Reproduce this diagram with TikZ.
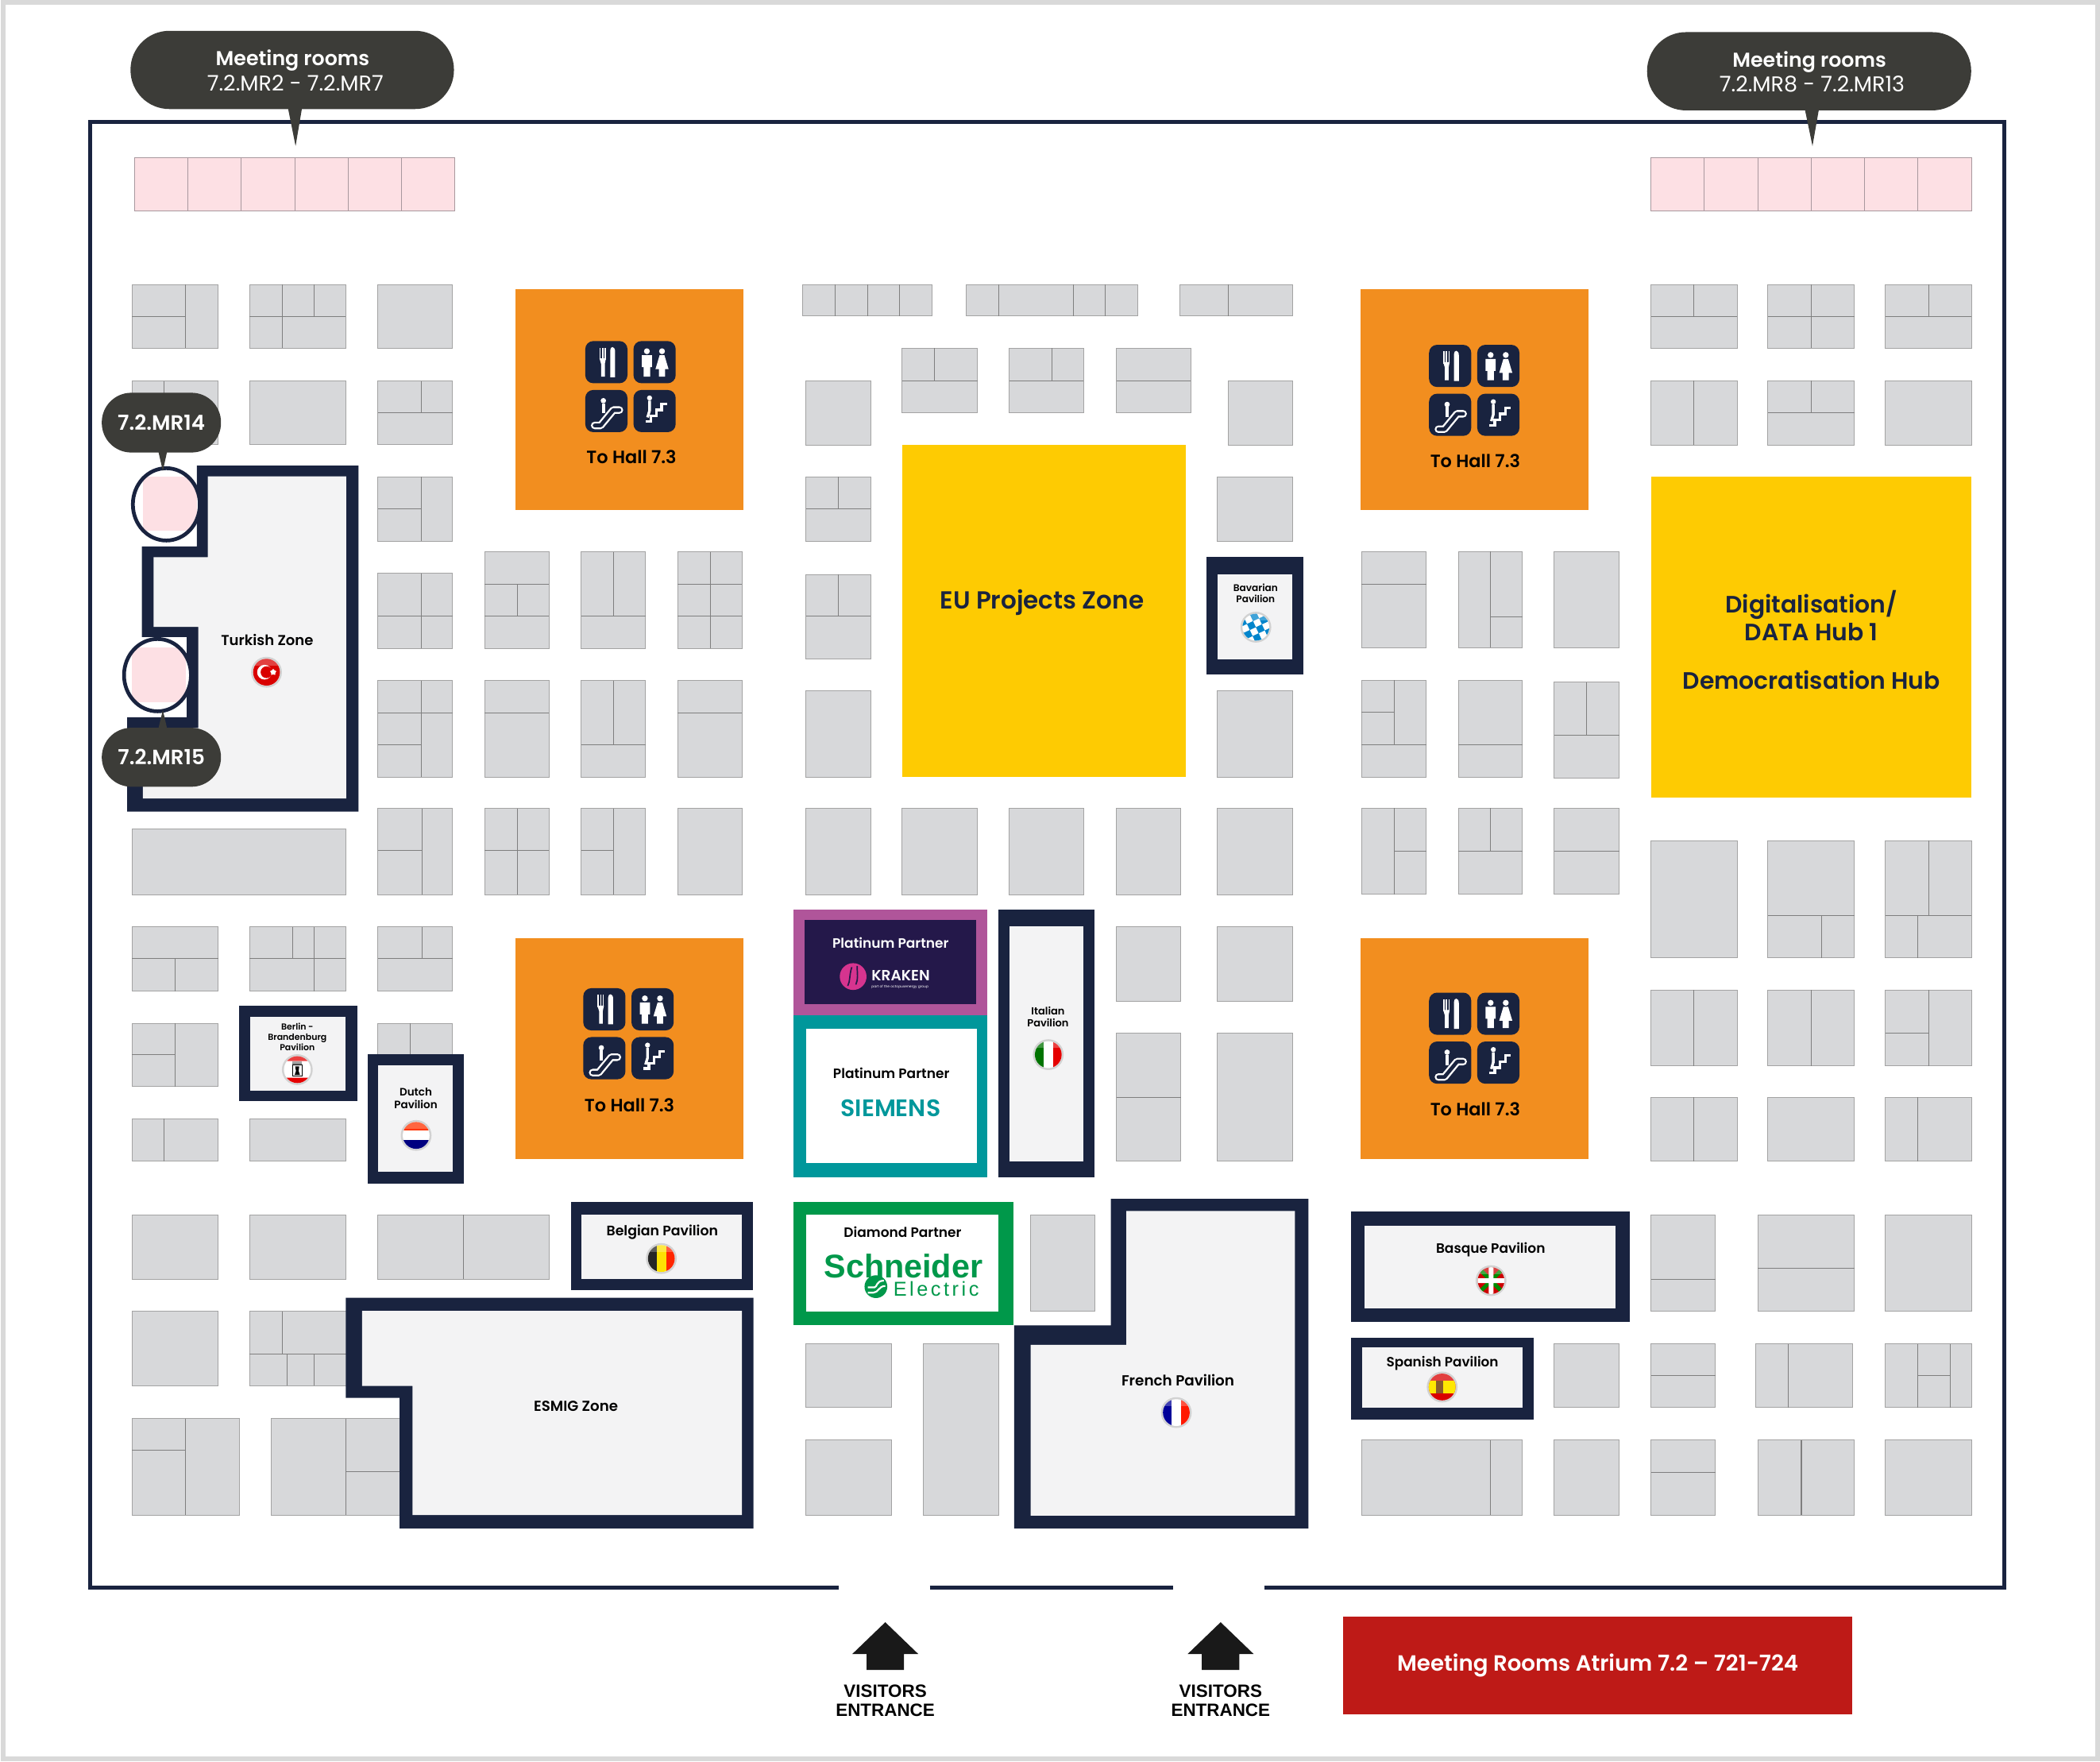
\documentclass[tikz,border=0pt]{standalone}
\usepackage{fontspec}
\setmainfont[BoldFont={Poppins SemiBold}]{Poppins}
\newfontfamily\arialfont{Liberation Sans}
\newfontfamily\electricfont[LetterSpace=14]{Liberation Sans}
\usetikzlibrary{shapes.geometric}

\definecolor{navywall}{HTML}{19233F}
\definecolor{standgrey}{HTML}{D7D8DA}
\definecolor{standline}{HTML}{A3A3A3}
\definecolor{dividerline}{HTML}{7F7F7F}
\definecolor{roompink}{HTML}{FDE0E4}
\definecolor{roomline}{HTML}{A8989E}
\definecolor{hallorange}{HTML}{F28E1F}
\definecolor{zoneyellow}{HTML}{FECB02}
\definecolor{zonefill}{HTML}{F3F3F4}
\definecolor{callgrey}{HTML}{3C3C38}
\definecolor{pagegrey}{HTML}{D9D9D9}
\definecolor{krakenframe}{HTML}{B0559A}
\definecolor{krakendark}{HTML}{24184A}
\definecolor{krakenpink}{HTML}{D6348F}
\definecolor{siemensteal}{HTML}{00979B}
\definecolor{schneidergreen}{HTML}{00984A}
\definecolor{atriumred}{HTML}{BE1A17}
\definecolor{ringgrey}{HTML}{D2D2D2}

\tikzset{
	txt/.style={inner sep=0pt, align=center, font=\fontsize{#1}{\dimexpr #1pt*118/100\relax}\selectfont\bfseries},
	callout/.style={fill=callgrey, text=white, rounded corners=#1, inner sep=0pt, align=center},
	stand/.style={fill=standgrey, draw=standline, line width=0.6pt},
	divider/.style={draw=dividerline, line width=0.6pt},
	room/.style={fill=roompink, draw=roomline, line width=0.5pt},
	hallicons/.pic={
		\foreach \ix/\iy in {0/0,36/0,0/36.5,36/36.5}
			\fill[navywall, rounded corners=6pt] (\ix,\iy) rectangle +(31.5,31.5);
		% cutlery
		\foreach \ix in {11,13,15}
			\draw[white, line width=0.9pt] (\ix,5) -- (\ix,14);
		\fill[white] (10.6,13) -- (15.4,13) -- (14.6,17) -- (14.6,26.5) -- (11.8,26.5) -- (11.8,17) -- cycle;
		\fill[white] (18.6,27) -- (18.6,7) .. controls (18.6,3.5) and (22.3,3.5) .. (22.3,8) -- (22.3,27) -- cycle;
		% toilets
		\fill[white] (46,7.6) circle (2.2) (57.3,7.6) circle (2.2);
		\fill[white] (42.2,10.6) rectangle (49.8,19.5) (43.6,19.5) rectangle (48.4,26.5);
		\fill[white] (55.5,10.6) -- (59.1,10.6) -- (62.2,21) -- (52.4,21) -- cycle (55,21) rectangle (59.6,26.5);
		% escalator
		\draw[white, line width=5.6pt, line join=round, line cap=round] (7,63) -- (11.5,63) -- (21,51.5) -- (25.5,51.5);
		\draw[navywall, line width=2.8pt, line join=round, line cap=round] (7,63) -- (11.5,63) -- (21,51.5) -- (25.5,51.5);
		\fill[white] (13.5,44.5) circle (2);
		\draw[white, line width=2.2pt] (13.5,46.5) -- (13.5,54);
		% stairs
		\draw[white, line width=2pt] (45,60) -- (49,60) -- (49,56) -- (53,56) -- (53,51.5) -- (57,51.5) -- (57,47) -- (61,47);
		\fill[white] (48,42.5) circle (1.9);
		\draw[white, line width=2pt] (48,44.5) -- (48,52) -- (46.5,57);
	}
}

% one round flag: centre, then what is painted on it
\newcommand{\flagdisc}[2]{
	\begin{scope}[shift={(#1)}]
		\fill[ringgrey] (0,0) circle (11.5);
		\begin{scope}
			\clip (0,0) circle (10);
			\fill[white] (-11,-11) rectangle (11,11);
			#2
			\fill[white, opacity=0.25] (-11,-11) rectangle (11,-5);
		\end{scope}
	\end{scope}
}

\begin{document}
\begin{tikzpicture}[x=1pt, y=-1pt]
	\useasboundingbox (0,0) rectangle (1568,1314.8);
	\draw[pagegrey, line width=3.6pt] (2.3,2) rectangle (1566,1312.9);

	% hall outline
	\draw[navywall, line width=3pt] (626.4,1185) -- (67.5,1185) -- (67.5,91.2) -- (1496.5,91.2) -- (1496.5,1185) -- (944.3,1185);
	\draw[navywall, line width=3pt] (694.2,1185) -- (876,1185);

	% meeting rooms
	\foreach \x in {100.5,140.3,180.2,220,259.8,299.7}
		\filldraw[room] (\x,117.5) rectangle +(39.9,40);
	\foreach \x in {1232.5,1272.5,1312.4,1352.3,1392.2,1432}
		\filldraw[room] (\x,117.5) rectangle +(39.9,40);

	% stands
	\foreach \ax/\ay/\bx/\by in {
		98.5/212.5/163/260, 186.5/212.5/258/260, 282/212.5/338/260,
		98.5/284.5/163/332, 186.5/284.5/258/332, 282/284.5/338/332,
		282/356/338/404, 282/428/338/484, 282/508/338/580,
		362/412/410/484, 434/412/482/484, 506/412/554/484,
		362/508/410/580, 434/508/482/580, 506/508/554/580,
		98.5/619/258/668, 282/603.5/338/668, 362/603.5/410/668, 434/603.5/482/668, 506/603.5/554/668,
		98.5/692/163/740, 186.5/692/258/740, 282/692/338/740,
		98.5/764/163/811, 282/764/338/790,
		98.5/835/163/867, 186.5/835/258/867,
		98.5/907/163/955, 186.5/907/258/955, 282/907/410/955,
		98.5/979/163/1034.5, 186.5/979/259/1034.5,
		98.5/1059/179/1131, 202.5/1059/299/1131,
		599.5/212.5/696/236, 721.3/212.5/849.4/236, 881.2/212.5/965/236,
		673.5/260/730/308, 753.6/260/809/308, 833.6/260/889/308,
		601.7/284.5/650/332.5, 917/284.5/965/332.5,
		601.7/356/650/404, 909/356/965/404,
		601.7/428.8/650/492, 601.7/515.6/650/580, 909/515.6/965/580,
		601.7/603.5/650/668, 673.5/603.5/730/668, 753.6/603.5/809/668, 833.6/603.5/881.8/668, 909/603.5/965/668,
		833.6/691.7/881.8/747.7, 909/691.7/965/747.7, 833.6/771/881.8/867, 909/771/965/867,
		769.5/907/817.3/979, 601.7/1003/665.6/1050.4, 601.7/1075/665.6/1131, 689.6/1003/746/1131,
		1016.7/411.7/1065/483.5, 1089/411.7/1136.8/483.5, 1160.5/411.7/1209/483.5,
		1016.7/507.8/1065/580, 1089/507.8/1136.8/580, 1160.5/509.3/1209/581,
		1016.7/603.2/1065/667.5, 1089/603.2/1136.8/667.5, 1160.5/603.2/1209/667.5,
		1232.8/212.6/1297/260, 1320/212.6/1384.7/260, 1407.8/212.6/1472/260,
		1232.8/284.3/1297/332.3, 1320/284.3/1384.7/332.3, 1407.8/284.3/1472/332.3,
		1232.8/627.7/1297/715, 1320/627.7/1384.7/715, 1407.8/627.7/1472/715,
		1232.8/739/1297/795.6, 1320/739/1384.7/795.6, 1407.8/739/1472/795.6,
		1232.8/819/1297/867, 1320/819/1384.7/867, 1407.8/819/1472/867,
		1232.8/907/1280.7/978.8, 1312.5/907/1384.7/978.8, 1407.8/907/1472/978.8,
		1160.5/1003.2/1209/1050.8, 1232.8/1003.2/1280.7/1050.8, 1311/1003.2/1383/1050.8, 1407.8/1003.2/1472/1050.8,
		1016.7/1075/1136.8/1131, 1160.5/1075/1209/1131, 1232.8/1075/1280.7/1131, 1312.5/1075/1384.7/1131, 1407.8/1075/1472/1131}
		\filldraw[stand] (\ax,\ay) rectangle (\bx,\by);

	% lines that split the stands
	\foreach \ax/\ay/\bx/\by in {
		138.3/212.5/138.3/260, 98.5/236.4/138.3/236.4,
		210.8/212.5/210.8/260, 234.6/212.5/234.6/236.4, 186.5/236.4/258/236.4,
		122.3/284.5/122.3/332,
		314.7/284.5/314.7/308.3, 282/308.3/338/308.3,
		314.7/356/314.7/404, 282/380/314.7/380,
		314.7/428/314.7/484, 282/460/338/460,
		314.7/508/314.7/580, 282/532/338/532, 282/556/314.7/556,
		362/436/410/436, 362/460/410/460, 386.5/436/386.5/460,
		458.3/412/458.3/460, 434/460/482/460,
		530.2/412/530.2/484, 506/436/554/436, 506/460/554/460,
		362/532/410/532, 458.3/508/458.3/556, 434/556/482/556, 506/532/554/532,
		315/603.5/315/668, 282/635/315/635,
		386.5/603.5/386.5/668, 362/635/410/635,
		458.3/603.5/458.3/668, 434/635/458.3/635,
		98.5/715.5/163/715.5, 130.8/715.5/130.8/740,
		218.6/692/218.6/715.5, 234.8/692/234.8/740, 186.5/715.5/258/715.5,
		315/692/315/715.5, 282/715.5/338/715.5,
		130.8/764/130.8/811, 98.5/787/130.8/787,
		306.4/764/306.4/790, 122.4/835/122.4/867, 346/907/346/955,
		210.7/979/210.7/1011, 186.5/1011/259/1011, 214.3/1011/214.3/1034.5, 234.7/1011/234.7/1034.5,
		138.4/1059/138.4/1131, 98.5/1082.6/138.4/1082.6,
		258.2/1059/258.2/1131, 258.2/1098.6/299/1098.6,
		623.6/212.5/623.6/236, 647.9/212.5/647.9/236, 671.5/212.5/671.5/236,
		745.6/212.5/745.6/236, 801.3/212.5/801.3/236, 825.4/212.5/825.4/236, 917/212.5/917/236,
		697.7/260/697.7/284.4, 673.5/284.4/730/284.4,
		785.6/260/785.6/284.4, 753.6/284.4/809/284.4, 833.6/284.4/889/284.4,
		626/356/626/380, 601.7/380/650/380, 626/428.8/626/460, 601.7/460/650/460,
		833.6/819/881.8/819,
		1016.7/436/1065/436, 1113/411.7/1113/483.5, 1113/460.7/1136.8/460.7,
		1041/507.8/1041/556, 1016.7/556/1065/556, 1016.7/531.4/1041/531.4,
		1089/556/1136.8/556, 1184.8/509.3/1184.8/549, 1160.5/549/1209/549,
		1041/603.2/1041/667.5, 1041/635.4/1065/635.4,
		1113/603.2/1113/635.4, 1089/635.4/1136.8/635.4, 1160.5/635.4/1209/635.4,
		1264.9/212.6/1264.9/236.4, 1232.8/236.4/1297/236.4,
		1352.5/212.6/1352.5/260, 1320/236.4/1384.7/236.4,
		1440/212.6/1440/236.4, 1407.8/236.4/1472/236.4,
		1264.9/284.3/1264.9/332.3, 1352.5/284.3/1352.5/308, 1320/308/1384.7/308,
		1320/683.4/1384.7/683.4, 1360/683.4/1360/715,
		1407.8/683.4/1472/683.4, 1440/627.7/1440/683.4, 1432/683.4/1432/715,
		1264.9/739/1264.9/795.6, 1352.5/739/1352.5/795.6, 1440/739/1440/795.6, 1407.8/771.2/1440/771.2,
		1264.9/819/1264.9/867, 1432/819/1432/867,
		1232.8/955/1280.7/955, 1312.5/946.8/1384.7/946.8,
		1232.8/1027/1280.7/1027, 1335.4/1003.2/1335.4/1050.8,
		1432/1003.2/1432/1050.8, 1456/1003.2/1456/1050.8, 1432/1027/1456/1027,
		1113/1075/1113/1131, 1232.8/1099/1280.7/1099, 1345/1075/1345/1131}
		\draw[divider] (\ax,\ay) -- (\bx,\by);

	% service blocks and hubs
	\foreach \x/\y in {385/216, 1016/216, 385/700.6, 1016/700.6}
		\fill[hallorange] (\x,\y) rectangle +(170,164.7);
	\pic at (437,254.6) {hallicons};
	\pic at (1067,257.4) {hallicons};
	\pic at (435.5,737.7) {hallicons};
	\pic at (1067,741) {hallicons};
	\node[txt=13.3] (hallnw) at (471.5,341) {To Hall 7.3};
	\node[txt=13.3] (hallne) at (1101.5,344) {To Hall 7.3};
	\node[txt=13.3] (hallsw) at (470,825) {To Hall 7.3};
	\node[txt=13.3] (hallse) at (1101.5,828) {To Hall 7.3};

	\fill[zoneyellow] (673.7,332) rectangle (885.5,579.8);
	\node[txt=18.4, text=navywall] (euzone) at (778,450) {EU Projects Zone};
	\fill[zoneyellow] (1232.8,356) rectangle (1472,595.4);
	\node[txt=17.7, text=navywall] (datahub) at (1352.5,477.5) {Digitalisation/\\DATA Hub 1\\[15pt]Democratisation Hub};

	% pavilions with plain walls
	\foreach \ax/\ay/\bx/\by/\cx/\cy/\dx/\dy in {
		901/416/973/503.4/909/428.8/965/492,
		178.5/751/266.7/822/186.7/759/258/814,
		274.4/787/346.4/883.7/282/795/338/875,
		426.3/897/562/963/434.3/907/554/955,
		745.4/679.3/817/878.7/753.6/691.7/809/867,
		1009/904.5/1217/987/1018.7/914.8/1206/977,
		1009/998.4/1145/1060/1017/1005.7/1136.8/1050.8}{
		\fill[navywall] (\ax,\ay) rectangle (\bx,\by);
		\fill[zonefill] (\cx,\cy) rectangle (\dx,\dy);
	}

	% zones with a stepped wall
	\fill[navywall] (147,347.6) -- (267.7,347.6) -- (267.7,605.8) -- (95,605.8) -- (95,535.5) -- (139.4,535.5) -- (139.4,475.5) -- (106,475.5) -- (106,408) -- (147,408) -- cycle;
	\fill[zonefill] (155.2,355.6) -- (258.5,355.6) -- (258.5,596) -- (106.7,596) -- (106.7,543.4) -- (148,543.4) -- (148,468) -- (114.7,468) -- (114.7,416) -- (155.2,416) -- cycle;
	\fill[navywall] (258.2,968.8) -- (562.5,968.8) -- (562.5,1141) -- (298.4,1141) -- (298.4,1043.5) -- (258.2,1043.5) -- cycle;
	\fill[zonefill] (270.4,978.6) -- (554,978.6) -- (554,1131) -- (308,1131) -- (308,1034.6) -- (270.4,1034.6) -- cycle;
	\fill[navywall] (829.4,895) -- (977,895) -- (977,1141) -- (757.3,1141) -- (757.3,989.4) -- (829.4,989.4) -- cycle;
	\fill[zonefill] (841,904) -- (966.9,904) -- (966.9,1131.5) -- (769.5,1131.5) -- (769.5,1004) -- (841,1004) -- cycle;

	% partner stands
	\fill[krakenframe] (592.6,679.3) rectangle (737,758);
	\fill[krakendark] (600.8,687) rectangle (729,749.5);
	\fill[siemensteal] (592.6,758) rectangle (737,879);
	\fill[white] (601.7,768) rectangle (729.5,868);
	\fill[schneidergreen] (592.6,897) rectangle (757,989.4);
	\fill[white] (601.7,907) rectangle (745.5,979);

	% two round rooms on the wall
	\foreach \cx/\cy/\ax/\ay/\bx/\by in {124.2/376.5/107/355.6/147/396, 117.6/504/98.6/483.5/139/524.4}{
		\fill[white] (\cx,\cy) ellipse (25 and 27);
		\begin{scope}
			\clip (\cx,\cy) ellipse (25 and 27);
			\fill[roompink] (\ax,\ay) rectangle (\bx,\by);
		\end{scope}
		\draw[navywall, line width=2.8pt] (\cx,\cy) ellipse (25 and 27);
	}

	% labels
	\node[txt=10.7] (turkish) at (199.5,477.5) {Turkish Zone};
	\node[txt=10.8] (esmig) at (430,1049.5) {ESMIG Zone};
	\node[txt=10.9] (french) at (879.5,1030.5) {French Pavilion};
	\node[txt=10.3] (belgian) at (494.5,920) {Belgian Pavilion};
	\node[txt=10.1] (basque) at (1113,933) {Basque Pavilion};
	\node[txt=10] (spanish) at (1077,1018) {Spanish Pavilion};
	\node[txt=7.7] (italian) at (782.5,759) {Italian\\Pavilion};
	\node[txt=8] (dutch) at (310.5,820) {Dutch\\Pavilion};
	\node[txt=7.2] (bavarian) at (937.5,443) {Bavarian\\Pavilion};
	\node[txt=6.5] (berlin) at (222,774) {Berlin -\\Brandenburg\\Pavilion};

	\node[txt=10.1, text=white] (platinumk) at (665,704) {Platinum Partner};
	\fill[krakenpink] (637,729) circle (10);
	\draw[krakendark, line width=1pt] (636,722) .. controls (634,728) and (635,732) .. (633,736) (640,721) .. controls (640,727) and (641,731) .. (639,735);
	\node[inner sep=0pt, font=\fontsize{11}{12}\selectfont\bfseries, text=white] (kraken) at (672.5,728) {KRAKEN};
	\node[inner sep=0pt, font=\fontsize{2.6}{3}\selectfont, text=white] (octopus) at (672,736.5) {part of the octopusenergy group};
	\node[txt=10.1] (platinums) at (665.5,801) {Platinum Partner};
	\node[txt=17.8, text=siemensteal] (siemens) at (665,827.5) {SIEMENS};
	\node[txt=10.1] (diamond) at (674,920) {Diamond Partner};
	\node[inner sep=0pt, font=\arialfont\fontsize{24.5}{26}\selectfont\bfseries, text=schneidergreen] (schneider) at (674.5,945) {Schneider};
	\node[inner sep=0pt, font=\electricfont\fontsize{15}{16}\selectfont, text=schneidergreen] (electric) at (699,962) {Electric};
	\fill[schneidergreen] (654,960.5) circle (8.5);
	\draw[white, line width=1.3pt] (648,961) -- (653,961) .. controls (655,961) and (654,956) .. (660,956) (648,965) -- (652,965) .. controls (656,965) and (656,960) .. (661,960);

	% flags
	\flagdisc{199,501.8}{
		\fill[red!85!black] (-11,-11) rectangle (11,11);
		\fill[white] (-1.5,0) circle (5.5);
		\fill[red!85!black] (0,0) circle (4.4);
		\node[star, star points=5, fill=white, minimum size=5pt, inner sep=0pt] (turkstar) at (5,0) {};
	}
	\flagdisc{222,798.5}{
		\fill[red!90!black] (-11,-11) rectangle (11,-6.5) (-11,6) rectangle (11,11);
		\fill[black!45] (-3.5,-6.5) rectangle (3.5,-3.5);
		\draw[black, line width=0.5pt] (-3.5,-3.5) rectangle (3.5,5);
		\fill[black] (-1.6,-2.4) -- (1.4,-2.4) -- (1,1) -- (2,4) -- (-2,4) -- (-1,1) -- cycle;
	}
	\flagdisc{310.7,847.6}{
		\fill[red!60!orange] (-11,-11) rectangle (11,-3.5);
		\fill[blue!50!black] (-11,3.5) rectangle (11,11);
	}
	\flagdisc{493.8,939.5}{
		\fill[black!85] (-11,-11) rectangle (-3.5,11);
		\fill[yellow!85!orange] (-3.5,-11) rectangle (3.5,11);
		\fill[red!70!orange] (3.5,-11) rectangle (11,11);
	}
	\flagdisc{782.7,787.3}{
		\fill[green!45!black] (-11,-11) rectangle (-3.5,11);
		\fill[red!90!black] (3.5,-11) rectangle (11,11);
	}
	\flagdisc{878.3,1054.5}{
		\fill[blue!60!black] (-11,-11) rectangle (-3.5,11);
		\fill[red!80!orange] (3.5,-11) rectangle (11,11);
	}
	\flagdisc{937.7,468.2}{
		\begin{scope}[rotate=25]
			\foreach \i/\j in {-3/-3,-3/-1,-3/1,-2/-2,-2/0,-2/2,-1/-3,-1/-1,-1/1,0/-2,0/0,0/2,1/-3,1/-1,1/1,2/-2,2/0,2/2}
				\fill[blue!35!cyan!80!black] (\i*5,\j*5) rectangle +(5,5);
		\end{scope}
	}
	\flagdisc{1113.3,956}{
		\fill[red!80!black] (-11,-11) rectangle (11,11);
		\draw[green!55!black, line width=3pt] (-11,-11) -- (11,11) (-11,11) -- (11,-11);
		\fill[white] (-11,-1.8) rectangle (11,1.8) (-1.8,-11) rectangle (1.8,11);
	}
	\flagdisc{1076.8,1035.4}{
		\fill[red!85!black] (-11,-11) rectangle (11,11);
		\fill[yellow!90!orange] (-11,-5) rectangle (11,5);
		\fill[brown!70!black] (-4.5,-5) rectangle (1,4.5);
	}

	% callouts
	\node[callout=29pt, minimum width=241.5pt, minimum height=58.4pt] (mrleft) at (218.2,52.2) {};
	\fill[callgrey] (214.9,80) -- (220.7,109) -- (225.6,80) -- cycle;
	\node[txt=15, text=white] (mrlefta) at (218.5,45) {Meeting rooms};
	\node[inner sep=0pt, font=\fontsize{16}{17}\selectfont, text=white] (mrleftb) at (220.5,62) {7.2.MR2 - 7.2.MR7};
	\node[callout=29pt, minimum width=242pt, minimum height=58.4pt] (mrright) at (1350.8,53.2) {};
	\fill[callgrey] (1347.5,81) -- (1353.3,109) -- (1358.2,81) -- cycle;
	\node[txt=15, text=white] (mrrighta) at (1351,46) {Meeting rooms};
	\node[inner sep=0pt, font=\fontsize{16}{17}\selectfont, text=white] (mrrightb) at (1353,63) {7.2.MR8 - 7.2.MR13};
	\node[callout=22pt, minimum width=89pt, minimum height=44.6pt, txt=15.5, text=white] (mrfourteen) at (120.5,315.5) {7.2.MR14};
	\fill[callgrey] (118,336) -- (121.6,351.6) -- (125,336) -- cycle;
	\node[callout=22pt, minimum width=89pt, minimum height=44pt, txt=15.5, text=white] (mrfifteen) at (120.5,565.3) {7.2.MR15};
	\fill[callgrey] (118,545) -- (121.6,530) -- (125,545) -- cycle;

	% entrances
	\foreach \x/\n in {661/entrancea, 911.4/entranceb}{
		\fill[black!90] (\x,1211) -- (\x+24.6,1234.7) -- (\x+14,1234.7) -- (\x+14,1246.6) -- (\x-14,1246.6) -- (\x-14,1234.7) -- (\x-24.6,1234.7) -- cycle;
		\node[inner sep=0pt, align=center, font=\arialfont\fontsize{13.3}{14.3}\selectfont\bfseries] (\n) at (\x,1269.5) {VISITORS\\ENTRANCE};
	}
	\fill[atriumred] (1003,1207) rectangle (1383,1280);
	\node[txt=16.4, text=white] (atrium) at (1193,1243.5) {Meeting Rooms Atrium 7.2 -- 721-724};
\end{tikzpicture}
\end{document}
